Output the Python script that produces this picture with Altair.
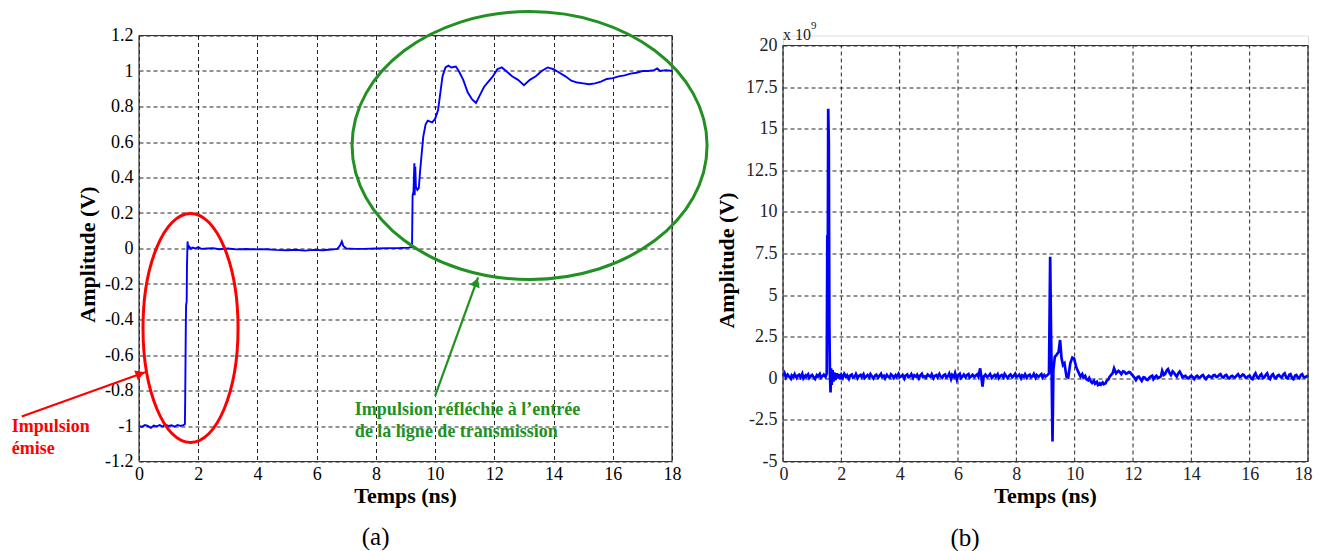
import altair as alt
import pandas as pd

# ---------------- Panel (a): reflected step ----------------
a_time = [0.00, 0.10, 0.20, 0.30, 0.40, 0.50, 0.60, 0.70, 0.80, 0.90, 1.00, 1.10, 1.20, 1.30, 1.40, 1.50,
          1.55, 1.56, 1.58, 1.59, 1.61, 1.62, 1.64, 1.66, 1.70, 1.75, 1.80, 1.90, 2.00, 2.10, 2.30, 2.50,
          2.70, 3.00, 3.30, 3.60, 4.00, 4.30, 4.60, 5.00, 5.30, 5.60, 5.90, 6.20, 6.50, 6.70, 6.80, 6.85,
          6.90, 7.00, 7.30, 7.60, 8.00, 8.40, 8.80, 9.10, 9.22, 9.24, 9.27, 9.30, 9.31, 9.33, 9.35, 9.40,
          9.45, 9.50, 9.60, 9.68, 9.75, 9.90, 10.00, 10.10, 10.25, 10.35, 10.45, 10.55, 10.70, 10.80,
          10.95, 11.10, 11.25, 11.38, 11.50, 11.65, 11.80, 11.95, 12.10, 12.25, 12.40, 12.60, 12.80,
          13.00, 13.20, 13.40, 13.60, 13.80, 14.00, 14.20, 14.40, 14.60, 14.80, 15.00, 15.20, 15.40,
          15.60, 15.80, 16.00, 16.20, 16.40, 16.60, 16.80, 17.00, 17.20, 17.40, 17.50, 17.60, 17.80, 18.00]
a_amp = [-1.000, -1.005, -0.995, -1.000, -1.010, -0.998, -1.002, -0.995, -1.003, -0.992, -1.000, -0.996,
         -1.004, -0.994, -1.000, -0.995, -0.990, -0.850, -0.450, -0.320, -0.300, -0.100, 0.040, 0.000,
         0.010, -0.002, 0.005, 0.000, 0.008, -0.002, 0.000, 0.002, -0.004, 0.000, -0.005, -0.003, -0.005,
         -0.004, -0.008, -0.010, -0.007, -0.012, -0.008, -0.010, -0.006, -0.002, 0.020, 0.040, 0.015,
         0.000, -0.002, -0.002, 0.000, 0.002, 0.003, 0.005, 0.008, 0.300, 0.320, 0.480, 0.300, 0.460,
         0.350, 0.330, 0.340, 0.450, 0.630, 0.700, 0.720, 0.710, 0.730, 0.780, 0.970, 1.020, 1.030,
         1.020, 1.025, 1.000, 0.950, 0.880, 0.840, 0.820, 0.860, 0.910, 0.940, 0.970, 1.010, 1.020,
         1.000, 0.970, 0.950, 0.920, 0.950, 0.970, 1.000, 1.020, 1.010, 0.990, 0.970, 0.945, 0.935,
         0.930, 0.925, 0.930, 0.940, 0.955, 0.960, 0.970, 0.975, 0.985, 0.990, 1.000, 1.000, 1.005,
         1.015, 1.000, 1.005, 1.000]

# ---------------- Panel (b): derivative (x 10^9), (time ns, value) pairs ----------------
b_baseline_start = [(0.00, 0.15), (0.05, 0.32), (0.10, 0.05), (0.16, 0.22), (0.20, 0.12), (0.27, -0.02),
                    (0.30, 0.18), (0.36, 0.08), (0.40, 0.25), (0.47, 0.03), (0.50, 0.14), (0.55, 0.21),
                    (0.60, 0.06), (0.66, 0.28), (0.70, 0.00), (0.77, 0.17), (0.80, 0.10), (0.86, 0.24),
                    (0.90, 0.02), (0.96, 0.15), (1.00, 0.20), (1.05, 0.07), (1.10, -0.04), (1.16, 0.19),
                    (1.20, 0.11), (1.26, 0.26), (1.30, 0.04), (1.36, 0.13), (1.40, 0.22), (1.46, 0.08),
                    (1.50, 0.30)]
b_pulse1 = [(1.52, 8.60), (1.53, 3.00), (1.55, 16.20), (1.57, 14.20), (1.59, 3.20), (1.61, 0.20),
            (1.63, -0.85), (1.65, 0.60), (1.67, -0.40), (1.70, 0.50), (1.73, -0.20), (1.76, 0.35),
            (1.80, -0.10), (1.84, 0.30), (1.88, 0.00), (1.92, 0.25), (1.96, -0.05)]
b_baseline_mid = [(2.00, 0.20), (2.05, 0.03), (2.10, 0.27), (2.16, 0.09), (2.20, 0.18), (2.26, -0.03),
                  (2.30, 0.16), (2.36, 0.23), (2.40, 0.05), (2.46, 0.11), (2.50, 0.26), (2.56, 0.01),
                  (2.60, 0.14), (2.66, 0.20), (2.70, 0.07), (2.76, 0.24), (2.80, 0.02), (2.86, 0.12),
                  (2.90, 0.19), (2.96, 0.06), (3.00, 0.25), (3.06, 0.10), (3.10, -0.01), (3.16, 0.17),
                  (3.20, 0.22), (3.26, 0.04), (3.30, 0.13), (3.36, 0.27), (3.40, 0.08), (3.46, 0.15),
                  (3.50, 0.00), (3.56, 0.21), (3.60, 0.11), (3.66, 0.05), (3.70, 0.24), (3.76, 0.14),
                  (3.80, 0.02), (3.86, 0.19), (3.90, 0.09), (3.96, 0.26), (4.00, 0.06), (4.06, 0.12),
                  (4.10, 0.20), (4.16, -0.02), (4.20, 0.16), (4.26, 0.23), (4.30, 0.07), (4.36, 0.13),
                  (4.40, 0.25), (4.46, 0.03), (4.50, 0.18), (4.56, 0.10), (4.60, 0.21), (4.66, 0.00),
                  (4.70, 0.15), (4.76, 0.27), (4.80, 0.08), (4.86, 0.12), (4.90, 0.04), (4.96, 0.22),
                  (5.00, 0.16), (5.06, 0.09), (5.10, 0.24), (5.16, 0.01), (5.20, 0.14), (5.26, 0.19),
                  (5.30, 0.06), (5.36, 0.26), (5.40, 0.11), (5.46, 0.03), (5.50, 0.17), (5.56, 0.23),
                  (5.60, 0.05), (5.66, 0.13), (5.70, 0.28), (5.76, -0.04), (5.80, 0.20), (5.86, 0.09),
                  (5.90, 0.31), (5.96, -0.08), (6.00, 0.16), (6.06, 0.27), (6.10, 0.02), (6.16, 0.12),
                  (6.20, 0.22), (6.26, 0.06), (6.30, 0.18), (6.36, 0.25), (6.40, 0.04), (6.46, 0.14),
                  (6.50, 0.21), (6.56, 0.08), (6.60, 0.15), (6.66, 0.24), (6.70, 0.10)]
b_bump = [(6.76, 0.60), (6.80, 0.10), (6.84, -0.50), (6.88, 0.10)]
b_baseline_late = [(6.94, 0.22), (7.00, 0.07), (7.06, 0.16), (7.10, 0.25), (7.16, 0.03), (7.20, 0.12),
                   (7.26, 0.20), (7.30, 0.09), (7.36, 0.24), (7.40, 0.01), (7.46, 0.15), (7.50, 0.19),
                   (7.56, 0.05), (7.60, 0.26), (7.66, 0.11), (7.70, 0.02), (7.76, 0.17), (7.80, 0.23),
                   (7.86, 0.06), (7.90, 0.13), (7.96, 0.27), (8.00, 0.08), (8.06, 0.14), (8.10, 0.21),
                   (8.16, 0.00), (8.20, 0.18), (8.26, 0.10), (8.30, 0.24), (8.36, 0.04), (8.40, 0.16),
                   (8.46, 0.22), (8.50, 0.07), (8.56, 0.12), (8.60, 0.26), (8.66, 0.03), (8.70, 0.19),
                   (8.76, 0.09), (8.80, 0.15), (8.86, 0.25), (8.90, 0.05), (8.96, 0.20), (9.00, 0.11),
                   (9.06, 0.18), (9.12, 0.30)]
b_pulse2 = [(9.16, 7.30), (9.19, 2.70), (9.21, 0.50), (9.24, -3.80), (9.27, 0.50), (9.32, 1.30),
            (9.38, 1.40), (9.45, 1.60), (9.50, 2.30), (9.55, 1.20), (9.60, 0.80), (9.65, 0.90),
            (9.72, 0.10), (9.78, 0.05), (9.85, 0.90), (9.92, 1.25), (9.98, 1.20), (10.05, 0.70),
            (10.12, 0.40), (10.20, 0.10)]
b_ringing = [(10.26, 0.25), (10.30, 0.05), (10.36, 0.15), (10.40, -0.05), (10.46, -0.12), (10.50, 0.02),
             (10.56, -0.20), (10.60, -0.28), (10.66, -0.15), (10.70, -0.32), (10.76, -0.22), (10.80, -0.40),
             (10.86, -0.30), (10.90, -0.38), (10.96, -0.25), (11.00, -0.36), (11.06, -0.30), (11.10, -0.15),
             (11.16, -0.05), (11.20, 0.10), (11.26, 0.22), (11.30, 0.30), (11.35, 0.60), (11.42, 0.30),
             (11.50, 0.45), (11.56, 0.35), (11.60, 0.25), (11.66, 0.42), (11.70, 0.40), (11.76, 0.28),
             (11.80, 0.30), (11.86, 0.38), (11.90, 0.35), (11.96, 0.22), (12.00, 0.15), (12.06, 0.02),
             (12.10, -0.10), (12.16, 0.08), (12.20, 0.10), (12.26, -0.05), (12.30, -0.15), (12.36, 0.06),
             (12.40, 0.05), (12.46, -0.08), (12.50, -0.10), (12.56, 0.04), (12.60, 0.10), (12.66, 0.16),
             (12.70, -0.05), (12.76, 0.08), (12.80, 0.15), (12.86, 0.02), (12.90, 0.05), (12.96, 0.12),
             (13.00, 0.45), (13.06, 0.20), (13.10, 0.25), (13.16, 0.48), (13.20, 0.55), (13.26, 0.30),
             (13.30, 0.20), (13.36, 0.42), (13.40, 0.35), (13.46, 0.18), (13.50, 0.10), (13.56, 0.32),
             (13.60, 0.40), (13.66, 0.22), (13.70, 0.05)]
b_tail = [(13.76, 0.12), (13.80, 0.15), (13.86, 0.03), (13.90, 0.00), (13.96, 0.10), (14.00, 0.15),
          (14.06, 0.06), (14.10, -0.05), (14.16, 0.11), (14.20, 0.15), (14.26, 0.04), (14.30, 0.05),
          (14.36, 0.16), (14.40, 0.20), (14.46, 0.02), (14.50, -0.05), (14.56, 0.09), (14.60, 0.15),
          (14.66, 0.07), (14.70, 0.05), (14.76, 0.18), (14.80, 0.20), (14.86, 0.08), (14.90, 0.10),
          (14.96, 0.21), (15.00, 0.25), (15.06, 0.06), (15.10, 0.05), (15.16, 0.17), (15.20, 0.20),
          (15.26, 0.03), (15.30, 0.00), (15.36, 0.12), (15.40, 0.15), (15.46, 0.05), (15.50, 0.05),
          (15.56, 0.18), (15.60, 0.25), (15.66, 0.08), (15.70, 0.10), (15.76, 0.22), (15.80, 0.20),
          (15.86, 0.04), (15.90, 0.05), (15.96, 0.14), (16.00, 0.15), (16.06, -0.02), (16.10, -0.05),
          (16.16, 0.20), (16.20, 0.30), (16.26, 0.05), (16.30, 0.00), (16.36, 0.18), (16.40, 0.25),
          (16.46, 0.02), (16.50, 0.05), (16.56, 0.22), (16.60, 0.30), (16.66, 0.01), (16.70, -0.05),
          (16.76, 0.19), (16.80, 0.25), (16.86, 0.03), (16.90, 0.00), (16.96, 0.16), (17.00, 0.20),
          (17.06, 0.08), (17.10, 0.05), (17.16, 0.24), (17.20, 0.30), (17.26, 0.02), (17.30, 0.00),
          (17.36, 0.21), (17.40, 0.25), (17.46, 0.00), (17.50, -0.05), (17.56, 0.17), (17.60, 0.20),
          (17.66, 0.03), (17.70, 0.00), (17.76, 0.20), (17.80, 0.25), (17.86, 0.06), (17.90, 0.05),
          (17.96, 0.12), (18.00, 0.15)]

# ---------------- Axes ----------------
x_ticks = [0, 2, 4, 6, 8, 10, 12, 14, 16, 18]
a_y_ticks = [-1.2, -1.0, -0.8, -0.6, -0.4, -0.2, 0, 0.2, 0.4, 0.6, 0.8, 1.0, 1.2]
b_y_ticks = [-5, -2.5, 0, 2.5, 5, 7.5, 10, 12.5, 15, 17.5, 20]
x_domain = [0, 18]
a_y_domain = [-1.2, 1.2]
b_y_frame = [-5, 20]
b_y_domain = [-5, 20.6]

# ---------------- Annotation texts ----------------
a_xlabel = ["Temps (ns)"]
a_ylabel = ["Amplitude (V)"]
a_caption = ["(a)"]
b_caption = ["(b)"]
red_text = ["Impulsion", "émise"]
green_text = ["Impulsion réfléchie à l’entrée", "de la ligne de transmission"]
b_exp = ["x 10", "9"]

# annotation anchors (data coordinates of panel a / b)
red_ellipse_xy = [1.74, -0.448]
green_ellipse_xy = [13.19, 0.58]
red_arrow = [-3.96, -0.946, 0.203, -0.697]
red_head = [0.044, -0.706]
green_arrow = [10.0, -0.83, 11.45, -0.163]
green_head = [11.39, -0.19]

SERIF = "Liberation Serif, Times New Roman, serif"
BLUE = "#0000FF"
RED = "#FF0000"
GREEN = "#229022"


def axis_x(color):
    return alt.Axis(values=x_ticks, grid=True, gridColor="#000000", gridDash=[4, 3], gridWidth=1,
                    gridOpacity=0.85, domain=False, ticks=False, tickSize=0, labelFont=SERIF,
                    labelFontSize=18, labelColor=color, labelPadding=4, labelFlush=False,
                    labelOverlap=False, labelExpr="datum.value + ''", title=None)


def axis_y(vals, color):
    return alt.Axis(values=vals, grid=True, gridColor="#000000", gridDash=[4, 3], gridWidth=1,
                    gridOpacity=0.85, domain=False, ticks=False, tickSize=0, labelFont=SERIF,
                    labelFontSize=18, labelColor=color, labelPadding=6, labelOverlap=False,
                    labelExpr="datum.value + ''", title=None)


AXA = axis_x("#000000")
AYA = axis_y(a_y_ticks, "#000000")
AXB = alt.Axis(values=x_ticks, grid=False, domain=False, ticks=False, tickSize=0, labelFont=SERIF,
               labelFontSize=18, labelColor="#222222", labelPadding=4, labelFlush=True,
               labelFlushOffset=4, labelOverlap=False, labelExpr="datum.value + ''", title=None)
AYB = axis_y(b_y_ticks, "#222222")

SXA = alt.Scale(domain=x_domain, nice=False, zero=False)
SYA = alt.Scale(domain=a_y_domain, nice=False, zero=False)
SXB = alt.Scale(domain=x_domain, nice=False, zero=False)
SYB = alt.Scale(domain=b_y_domain, nice=False, zero=False)


def XA(f):
    return alt.X(f, type="quantitative", scale=SXA, axis=AXA)


def YA(f):
    return alt.Y(f, type="quantitative", scale=SYA, axis=AYA)


def XB(f):
    return alt.X(f, type="quantitative", scale=SXB, axis=AXB)


def YB(f):
    return alt.Y(f, type="quantitative", scale=SYB, axis=AYB)


# ================= Panel (a) =================
df_a = pd.DataFrame({"t": a_time, "v": a_amp})
line_a = alt.Chart(df_a).mark_line(color=BLUE, strokeWidth=1.9).encode(x=XA("t"), y=YA("v"))

frame_a_v = alt.Chart(pd.DataFrame({"x": x_domain, "y": [a_y_domain[0]] * 2, "y2": [a_y_domain[1]] * 2})) \
    .mark_rule(color="#333333", strokeWidth=1.2).encode(x=XA("x"), y=YA("y"), y2="y2")
frame_a_h = alt.Chart(pd.DataFrame({"y": a_y_domain, "x": [x_domain[0]] * 2, "x2": [x_domain[1]] * 2})) \
    .mark_rule(color="#333333", strokeWidth=1.2).encode(y=YA("y"), x=XA("x"), x2="x2")

red_ell = alt.Chart(pd.DataFrame({"x": [red_ellipse_xy[0]], "y": [red_ellipse_xy[1]]})).mark_point(
    shape="M -0.415 0 A 0.415 1 0 1 0 0.415 0 A 0.415 1 0 1 0 -0.415 0 Z",
    size=52441, filled=False, color=RED, strokeWidth=3, strokeJoin="round", opacity=1).encode(
    x=XA("x"), y=YA("y"))
green_ell = alt.Chart(pd.DataFrame({"x": [green_ellipse_xy[0]], "y": [green_ellipse_xy[1]]})).mark_point(
    shape="M -1 0 A 1 0.755 0 1 0 1 0 A 1 0.755 0 1 0 -1 0 Z",
    size=126025, filled=False, color=GREEN, strokeWidth=3, strokeJoin="round", opacity=1).encode(
    x=XA("x"), y=YA("y"))

red_arr = alt.Chart(pd.DataFrame({"x": [red_arrow[0]], "y": [red_arrow[1]], "x2": [red_arrow[2]],
                                  "y2": [red_arrow[3]]})).mark_rule(color=RED, strokeWidth=2.2).encode(
    x=XA("x"), y=YA("y"), x2="x2", y2="y2")
red_hd = alt.Chart(pd.DataFrame({"x": [red_head[0]], "y": [red_head[1]]})).mark_point(
    shape="triangle-right", filled=True, color=RED, size=110, angle=340, opacity=1).encode(
    x=XA("x"), y=YA("y"))
green_arr = alt.Chart(pd.DataFrame({"x": [green_arrow[0]], "y": [green_arrow[1]], "x2": [green_arrow[2]],
                                    "y2": [green_arrow[3]]})).mark_rule(color=GREEN, strokeWidth=2.2).encode(
    x=XA("x"), y=YA("y"), x2="x2", y2="y2")
green_hd = alt.Chart(pd.DataFrame({"x": [green_head[0]], "y": [green_head[1]]})).mark_point(
    shape="triangle-right", filled=True, color=GREEN, size=110, angle=290, opacity=1).encode(
    x=XA("x"), y=YA("y"))

txt_a_x = alt.Chart(pd.DataFrame({"x": [9.0], "y": [-1.397], "s": a_xlabel})).mark_text(
    font=SERIF, fontSize=22, fontWeight="bold", color="#000000", align="center", baseline="middle").encode(
    x=XA("x"), y=YA("y"), text="s:N")
txt_a_y = alt.Chart(pd.DataFrame({"x": [-1.72], "y": [-0.034], "s": a_ylabel})).mark_text(
    font=SERIF, fontSize=22, fontWeight="bold", color="#000000", align="center", baseline="middle",
    angle=270).encode(x=XA("x"), y=YA("y"), text="s:N")
txt_a_cap = alt.Chart(pd.DataFrame({"x": [7.99], "y": [-1.628], "s": a_caption})).mark_text(
    font=SERIF, fontSize=25, color="#000000", align="center", baseline="middle").encode(
    x=XA("x"), y=YA("y"), text="s:N")
txt_red = alt.Chart(pd.DataFrame({"x": [-4.30, -4.30], "y": [-1.008, -1.127], "s": red_text})).mark_text(
    font=SERIF, fontSize=18, fontWeight="bold", color=RED, align="left", baseline="middle").encode(
    x=XA("x"), y=YA("y"), text="s:N")
txt_green = alt.Chart(pd.DataFrame({"x": [7.29, 7.29], "y": [-0.909, -1.035], "s": green_text})).mark_text(
    font=SERIF, fontSize=18, fontWeight="bold", color=GREEN, align="left", baseline="middle").encode(
    x=XA("x"), y=YA("y"), text="s:N")

panel_a = alt.layer(line_a, frame_a_v, frame_a_h, red_ell, green_ell, red_arr, red_hd, green_arr,
                    green_hd, txt_a_x, txt_a_y, txt_a_cap, txt_red, txt_green).properties(width=533, height=426)

# ================= Panel (b) =================
b_points = b_baseline_start + b_pulse1 + b_baseline_mid + b_bump + b_baseline_late + b_pulse2 + b_ringing + b_tail
df_b = pd.DataFrame({"t": [p[0] for p in b_points], "v": [p[1] for p in b_points]})
line_b = alt.Chart(df_b).mark_line(color=BLUE, strokeWidth=2.7).encode(x=XB("t"), y=YB("v"))

grid_b = alt.Chart(pd.DataFrame({"x": x_ticks, "y": [b_y_frame[0]] * len(x_ticks),
                                 "y2": [b_y_frame[1]] * len(x_ticks)})).mark_rule(
    color="#000000", strokeDash=[4, 3], strokeWidth=1, opacity=0.85).encode(x=XB("x"), y=YB("y"), y2="y2")
frame_b_v = alt.Chart(pd.DataFrame({"x": x_domain, "y": [b_y_frame[0]] * 2, "y2": [b_y_frame[1]] * 2})) \
    .mark_rule(color="#333333", strokeWidth=1.2).encode(x=XB("x"), y=YB("y"), y2="y2")
frame_b_h = alt.Chart(pd.DataFrame({"y": b_y_frame, "x": [x_domain[0]] * 2, "x2": [x_domain[1]] * 2})) \
    .mark_rule(color="#333333", strokeWidth=1.2).encode(y=YB("y"), x=XB("x"), x2="x2")

txt_b_x = alt.Chart(pd.DataFrame({"x": [9.0], "y": [-7.10], "s": a_xlabel})).mark_text(
    font=SERIF, fontSize=22, fontWeight="bold", color="#000000", align="center", baseline="middle").encode(
    x=XB("x"), y=YB("y"), text="s:N")
txt_b_y = alt.Chart(pd.DataFrame({"x": [-1.92], "y": [7.08], "s": a_ylabel})).mark_text(
    font=SERIF, fontSize=22, fontWeight="bold", color="#000000", align="center", baseline="middle",
    angle=270).encode(x=XB("x"), y=YB("y"), text="s:N")
txt_b_cap = alt.Chart(pd.DataFrame({"x": [6.24], "y": [-9.57], "s": b_caption})).mark_text(
    font=SERIF, fontSize=25, color="#000000", align="center", baseline="middle").encode(
    x=XB("x"), y=YB("y"), text="s:N")
txt_b_exp = alt.Chart(pd.DataFrame({"x": [0.0], "y": [20.3], "s": [b_exp[0]]})).mark_text(
    font=SERIF, fontSize=16, color="#222222", align="left", baseline="alphabetic").encode(
    x=XB("x"), y=YB("y"), text="s:N")
txt_b_sup = alt.Chart(pd.DataFrame({"x": [0.96], "y": [21.0], "s": [b_exp[1]]})).mark_text(
    font=SERIF, fontSize=11, color="#222222", align="left", baseline="alphabetic").encode(
    x=XB("x"), y=YB("y"), text="s:N")

panel_b = alt.layer(grid_b, line_b, frame_b_v, frame_b_h, txt_b_x, txt_b_y, txt_b_cap, txt_b_exp,
                    txt_b_sup).properties(width=525, height=426)

chart = alt.hconcat(panel_a, panel_b, spacing=111, bounds="flush").properties(
    padding={"left": 3, "top": 1.5, "right": 0, "bottom": 0}
).configure_view(stroke=None).configure(background="white")

chart.save("out.html", embed_options={"renderer": "svg", "actions": False})
